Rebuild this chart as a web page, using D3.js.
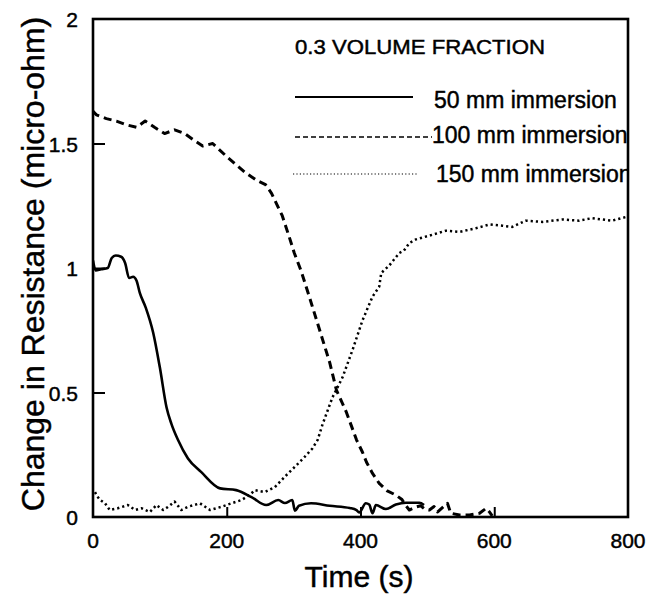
<!DOCTYPE html>
<html>
<head>
<meta charset="utf-8">
<script src="https://cdn.jsdelivr.net/npm/d3@7"></script>
<style>
  body { margin: 0; background: #fff; }
  svg text { font-family: "Liberation Sans", Arial, Helvetica, sans-serif; fill: #000; stroke: #000; stroke-width: 0.45px; }
</style>
</head>
<body>
<svg id="chart" width="662" height="595"></svg>
<script>
// données : temps (s) / variation de résistance (micro-ohm)
var t50 = [0, 4, 12, 22, 28, 34, 42, 48, 54, 60, 65, 70, 79, 90, 100, 110, 117, 127, 142, 162, 190, 214, 237, 259, 277, 287, 298, 302, 308, 326, 354, 384, 394, 398, 408, 413, 418, 423, 438, 453, 468, 488, 495];
var v50 = [1.03, 0.99, 0.995, 1.0, 1.04, 1.05, 1.045, 1.02, 0.96, 0.965, 0.95, 0.90, 0.84, 0.74, 0.60, 0.44, 0.376, 0.31, 0.235, 0.18, 0.115, 0.108, 0.08, 0.048, 0.068, 0.056, 0.068, 0.025, 0.045, 0.055, 0.045, 0.036, 0.028, 0.018, 0.055, 0.05, 0.015, 0.048, 0.032, 0.05, 0.057, 0.057, 0.048];

var t100 = [0, 5, 20, 35, 50, 65, 78, 92, 107, 122, 137, 150, 164, 179, 201, 227, 246, 258, 267, 283, 294, 301, 311, 324, 339, 354, 364, 379, 394, 403, 409, 418, 428, 440, 453, 462, 468, 473, 483, 490, 497, 503, 510, 515, 530, 535, 548, 563, 578, 588, 593, 597];
var v100 = [1.63, 1.615, 1.60, 1.59, 1.575, 1.565, 1.59, 1.565, 1.54, 1.555, 1.54, 1.515, 1.49, 1.50, 1.445, 1.385, 1.35, 1.335, 1.30, 1.21, 1.12, 1.06, 0.99, 0.88, 0.75, 0.62, 0.51, 0.42, 0.31, 0.26, 0.22, 0.175, 0.135, 0.105, 0.088, 0.07, 0.045, 0.028, 0.04, 0.045, 0.03, 0.028, 0.042, 0.02, 0.055, 0.015, 0.008, 0.008, 0.015, 0.035, 0.02, 0.005];

var t150 = [3, 6, 10, 18, 25, 37, 52, 63, 73, 85, 95, 105, 112, 122, 132, 142, 160, 175, 192, 207, 222, 235, 242, 257, 272, 288, 307, 316, 328, 336, 343, 358, 373, 388, 403, 418, 428, 431, 443, 458, 465, 473, 483, 503, 528, 548, 573, 593, 612, 627, 647, 672, 702, 727, 746, 776, 797];
var v150 = [0.10, 0.085, 0.07, 0.055, 0.028, 0.035, 0.048, 0.028, 0.035, 0.02, 0.048, 0.028, 0.04, 0.062, 0.028, 0.041, 0.055, 0.028, 0.041, 0.055, 0.068, 0.09, 0.108, 0.10, 0.12, 0.165, 0.215, 0.24, 0.275, 0.31, 0.37, 0.48, 0.56, 0.67, 0.79, 0.885, 0.925, 0.98, 1.01, 1.06, 1.07, 1.10, 1.115, 1.13, 1.15, 1.145, 1.16, 1.175, 1.17, 1.165, 1.19, 1.185, 1.195, 1.19, 1.20, 1.19, 1.205];

var seriesNames = ['50 mm immersion', '100 mm immersion', '150 mm immersion'];
var xTicks = [0, 200, 400, 600, 800];
var yTicks = [0, 0.5, 1, 1.5, 2];
var title = '0.3  VOLUME FRACTION';

var svg = d3.select('#chart'),
    m = {left: 93, right: 628, top: 19, bottom: 517};

var x = d3.scaleLinear().domain([0, 800]).range([m.left, m.right]),
    y = d3.scaleLinear().domain([0, 2]).range([m.bottom, m.top]);

var series = [
    {name: seriesNames[0], t: t50, v: v50, w: 2.6, dash: null},
    {name: seriesNames[1], t: t100, v: v100, w: 3, dash: '8,5'},
    {name: seriesNames[2], t: t150, v: v150, w: 2.5, dash: '2.2,3'}
];
var legendStyle = [
    {w: 2, dash: null, x0: 295, x1: 413},
    {w: 1.6, dash: '5,3', x0: 295, x1: 432},
    {w: 1.2, dash: '1.2,2.2', x0: 293, x1: 417}
];

svg.append('clipPath').attr('id', 'plotClip')
    .append('rect')
    .attr('x', m.left).attr('y', m.top)
    .attr('width', m.right - m.left).attr('height', m.bottom - m.top);

// courbes
var line = d3.line()
    .x(d => x(d[0]))
    .y(d => y(d[1]));

var plot = svg.append('g').attr('clip-path', 'url(#plotClip)');
series.forEach((s, i) => {
    var pts = s.t.map((t, k) => [t, s.v[k]]);
    plot.append('path')
        .attr('d', line.curve(i == 0 ? d3.curveMonotoneX : d3.curveLinear)(pts))
        .attr('fill', 'none')
        .attr('stroke', '#000')
        .attr('stroke-width', s.w)
        .attr('stroke-dasharray', s.dash)
        .attr('stroke-linejoin', 'round');
});

// cadre
svg.append('rect')
    .attr('x', m.left).attr('y', m.top)
    .attr('width', m.right - m.left).attr('height', m.bottom - m.top)
    .attr('fill', 'none').attr('stroke', '#000').attr('stroke-width', 2.6);

// axes avec graduations vers l'intérieur
var xAxis = d3.axisTop(x).tickValues(xTicks.filter(d => d > 0 && d < 800)).tickSize(10).tickFormat('');
svg.append('g').attr('transform', `translate(0,${m.bottom})`).call(xAxis)
    .call(g => g.select('.domain').remove())
    .selectAll('line').attr('stroke-width', 2);
var yAxis = d3.axisRight(y).tickValues(yTicks.filter(d => d > 0 && d < 2)).tickSize(12).tickFormat('');
svg.append('g').attr('transform', `translate(${m.left},0)`).call(yAxis)
    .call(g => g.select('.domain').remove())
    .selectAll('line').attr('stroke-width', 2);

svg.append('g').selectAll('text').data(xTicks).enter()
    .append('text')
    .attr('x', d => x(d)).attr('y', 548)
    .attr('text-anchor', 'middle')
    .style('font-size', '21px')
    .text(d => d);
svg.append('g').selectAll('text').data(yTicks).enter()
    .append('text')
    .attr('x', 78).attr('y', d => y(d) + 8)
    .attr('text-anchor', 'end')
    .style('font-size', '21px')
    .text(d => d);

// titres des axes
svg.append('text')
    .attr('x', 359).attr('y', 587)
    .attr('text-anchor', 'middle')
    .style('font-size', '30px')
    .text('Time (s)');
svg.append('text')
    .attr('transform', 'translate(44,264) rotate(-90)')
    .attr('text-anchor', 'middle')
    .style('font-size', '32px')
    .text('Change in Resistance (micro-ohm)');

// légende
var leg = svg.append('g').attr('clip-path', 'url(#plotClip)');
leg.append('text')
    .attr('x', 295).attr('y', 54)
    .style('font-size', '20.5px')
    .attr('textLength', 250).attr('lengthAdjust', 'spacingAndGlyphs')
    .text(title);
var rowY = [97, 137, 174], textY = [108, 143, 182], textX = [434, 432, 436];
series.forEach((s, i) => {
    var ls = legendStyle[i];
    leg.append('line')
        .attr('x1', ls.x0).attr('x2', ls.x1)
        .attr('y1', rowY[i]).attr('y2', rowY[i])
        .attr('stroke', '#000')
        .attr('stroke-width', ls.w)
        .attr('stroke-dasharray', ls.dash);
    leg.append('text')
        .attr('x', textX[i]).attr('y', textY[i])
        .style('font-size', '23px')
        .text(s.name);
});
</script>
</body>
</html>
